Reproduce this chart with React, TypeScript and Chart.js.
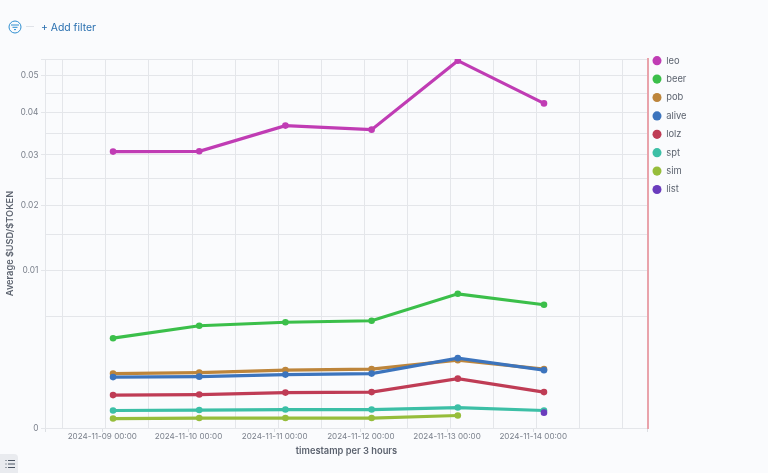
import React, { useEffect, useRef } from "react";
import { Chart, registerables, LinearScale } from "chart.js";

class SqrtScale extends (LinearScale as any) {
  static id = "sqrtScale";
  static defaults = (LinearScale as any).defaults;
  getPixelForValue(value: number) {
    const a = Math.sqrt(this.min), b = Math.sqrt(this.max);
    return this.getPixelForDecimal((Math.sqrt(Math.max(value, 0)) - a) / (b - a));
  }
  getValueForPixel(pixel: number) {
    const a = Math.sqrt(this.min), b = Math.sqrt(this.max);
    const s = a + this.getDecimalForPixel(pixel) * (b - a);
    return s * s;
  }
}
Chart.register(...registerables, SqrtScale as any);

const timestamps = ["2024-11-09 03:00", "2024-11-10 03:00", "2024-11-11 03:00", "2024-11-12 03:00", "2024-11-13 03:00", "2024-11-14 03:00"];
const leo = [0.03075, 0.03081, 0.03680, 0.03583, 0.05430, 0.04240];
const beer = [0.003245, 0.004209, 0.004501, 0.004629, 0.007247, 0.00611];
const pob = [0.00119, 0.001234, 0.001348, 0.001394, 0.001852, 0.001394];
const alive = [0.001042, 0.001062, 0.001147, 0.00119, 0.001963, 0.001348];
const lolz = [0.000436, 0.00045, 0.000505, 0.000519, 0.000981, 0.000519];
const spt = [0.000123, 0.00013, 0.000137, 0.000137, 0.000168, 0.000123];
const sim = [0.000036, 0.00004, 0.00004, 0.00004, 0.000063, null];
const list = [null, null, null, null, null, 0.000095];

const seriesNames = ["leo", "beer", "pob", "alive", "lolz", "spt", "sim", "list"];
const seriesValues = [leo, beer, pob, alive, lolz, spt, sim, list];
const seriesColors = ["#c03cb4", "#3bbf4a", "#bd853b", "#3c74bd", "#bf3c55", "#3cbfa6", "#96bd3b", "#6a3cbd"];

const xMin = -15.95;
const xMax = 151.95;
const dayTicks = [xMin, 0, 24, 48, 72, 96, 120, xMax];
const dayLabels = ["", "2024-11-09 00:00", "2024-11-10 00:00", "2024-11-11 00:00", "2024-11-12 00:00", "2024-11-13 00:00", "2024-11-14 00:00", ""];
const gridHours = [-11, 1, 13, 25, 37, 49, 61, 73, 85, 97, 109, 121, 133, 145];
const yTicks = [0, 0.005, 0.01, 0.015, 0.02, 0.025, 0.03, 0.035, 0.04, 0.045, 0.05, 0.0548];
const yLabelled = [0, 0.01, 0.02, 0.03, 0.04, 0.05];
const yMajor = [0, 0.01, 0.02, 0.03, 0.04, 0.05, 0.0548];

const hoursOf = (s: string) => (Date.parse(s.replace(" ", "T") + "Z") - Date.parse("2024-11-09T00:00Z")) / 3600000;

const legendShift = {
  id: "legendShift",
  afterLayout(c: any) {
    const w = c.legend.right - c.legend.left;
    c.legend.left = 643.5;
    c.legend.right = 643.5 + w;
  },
};

export default function App() {
  const ref = useRef<HTMLCanvasElement>(null);
  useEffect(() => {
    document.body.style.margin = "0";
    document.body.style.background = "#fafbfd";
    const chart = new Chart(ref.current!, {
      type: "line",
      plugins: [legendShift],
      data: {
        datasets: seriesNames.map((name, i) => ({
          label: name,
          data: seriesValues[i].map((v, j) => ({ x: hoursOf(timestamps[j]), y: v })),
          borderColor: seriesColors[i],
          backgroundColor: seriesColors[i],
          borderWidth: 3.2,
          pointRadius: 3.3,
          pointBorderWidth: 0,
          pointHoverRadius: 3.3,
          spanGaps: false,
          tension: 0,
          order: -i,
        })),
      },
      options: {
        responsive: false,
        animation: false,
        layout: { padding: { left: 5, right: 67, top: 47, bottom: 16 } },
        scales: {
          x: {
            type: "linear",
            min: xMin,
            max: xMax,
            afterBuildTicks: (s: any) => { s.ticks = gridHours.map((value) => ({ value })); },
            ticks: { display: false, autoSkip: false },
            grid: { color: "#e4e6ea", lineWidth: 1, drawTicks: false },
            border: { display: false },
            afterFit: (s: any) => { s.height = 0; },
          },
          spacer: {
            type: "linear",
            position: "top",
            min: 0,
            max: 1,
            ticks: { display: false },
            grid: { display: false },
            border: { display: false },
            afterFit: (s: any) => { s.height = 12; },
          },
          xLabels: {
            type: "linear",
            position: "bottom",
            min: xMin,
            max: xMax,
            afterBuildTicks: (s: any) => { s.ticks = dayTicks.map((value) => ({ value })); },
            afterFit: (s: any) => { s.height = 29; },
            ticks: {
              autoSkip: false,
              maxRotation: 0,
              color: "#7b818c",
              padding: 0,
              font: { family: "Inter", size: 8.1 },
              callback: (v: any) => dayLabels[dayTicks.indexOf(v)] ?? "",
            },
            grid: { drawOnChartArea: false, color: "#dcdfe3", tickLength: 4 },
            border: { color: "#e4e6ea" },
            title: {
              display: true,
              text: "timestamp per 3 hours",
              color: "#5c636f",
              padding: { top: 0, bottom: 0 },
              font: { family: "Inter", size: 9.3, weight: 600 },
            },
          },
          y: {
            type: "sqrtScale",
            position: "left",
            min: 0,
            max: 0.0548,
            afterBuildTicks: (s: any) => { s.ticks = yTicks.map((value) => ({ value })); },
            afterFit: (s: any) => { s.width = 40; },
            ticks: {
              autoSkip: false,
              color: "#7b818c",
              padding: 2.5,
              font: { family: "Inter", size: 8.4 },
              callback: (v: any) => (yLabelled.includes(v) ? String(v) : ""),
            },
            grid: {
              color: "#e4e6ea",
              tickLength: 4,
              tickColor: (c: any) => (yMajor.includes(c.tick?.value) ? "#e4e6ea" : "transparent"),
            },
            border: { color: "#e4e6ea" },
            title: {
              display: true,
              text: "Average $USD/$TOKEN",
              color: "#5c636f",
              padding: { top: 0, bottom: 0 },
              font: { family: "Inter", size: 9.2, weight: 600 },
            },
          },
          marker: {
            type: "linear",
            position: "right",
            min: 0,
            max: 1,
            ticks: { display: false },
            grid: { display: false },
            border: { color: "#e9a3ab", width: 2 },
            afterFit: (s: any) => { s.width = 0; },
          },
        },
        plugins: {
          tooltip: { enabled: false },
          legend: {
            position: "right",
            align: "start",
            labels: {
              usePointStyle: true,
              pointStyle: "circle",
              pointStyleWidth: 9,
              boxHeight: 6.5,
              padding: 9,
              color: "#5c636f",
              font: { family: "Inter", size: 9.4 },
              sort: (a: any, b: any) => a.datasetIndex - b.datasetIndex,
            },
          },
        },
      },
    } as any);
    return () => chart.destroy();
  }, []);
  return (
    <div style={{ position: "relative", width: 768, height: 473, background: "#fafbfd", overflow: "hidden", fontFamily: "Inter" }}>
      <canvas ref={ref} width={768} height={473} style={{ position: "absolute", left: 0, top: 0 }} />
      <svg width="14" height="14" viewBox="0 0 14 14" style={{ position: "absolute", left: 8, top: 20 }}>
        <circle cx="7" cy="7" r="6" fill="none" stroke="#2f8fd0" strokeWidth="1" />
        <path d="M3 5h8M4.500 7.300h5M6 9.600h2" stroke="#2f8fd0" strokeWidth="1" />
      </svg>
      <div style={{ position: "absolute", left: 26, top: 26, width: 8, height: 1, background: "#dfe2e8" }} />
      <div style={{ position: "absolute", left: 41, top: 21, fontSize: 10.4, lineHeight: "14px", color: "#2a70b0" }}>+ Add filter</div>
      <div style={{ position: "absolute", left: 0, top: 454, width: 18, height: 19, background: "#e9ebef", borderRadius: "0 4px 0 0" }}>
        <svg width="10" height="10" viewBox="0 0 10 10" style={{ position: "absolute", left: 4.500, top: 4.500 }}>
          <path d="M3 1.500h7M3 5h7M3 8.500h7M0.500 1.500h1M0.500 5h1M0.500 8.500h1" stroke="#4b5563" strokeWidth="1" />
        </svg>
      </div>
    </div>
  );
}
